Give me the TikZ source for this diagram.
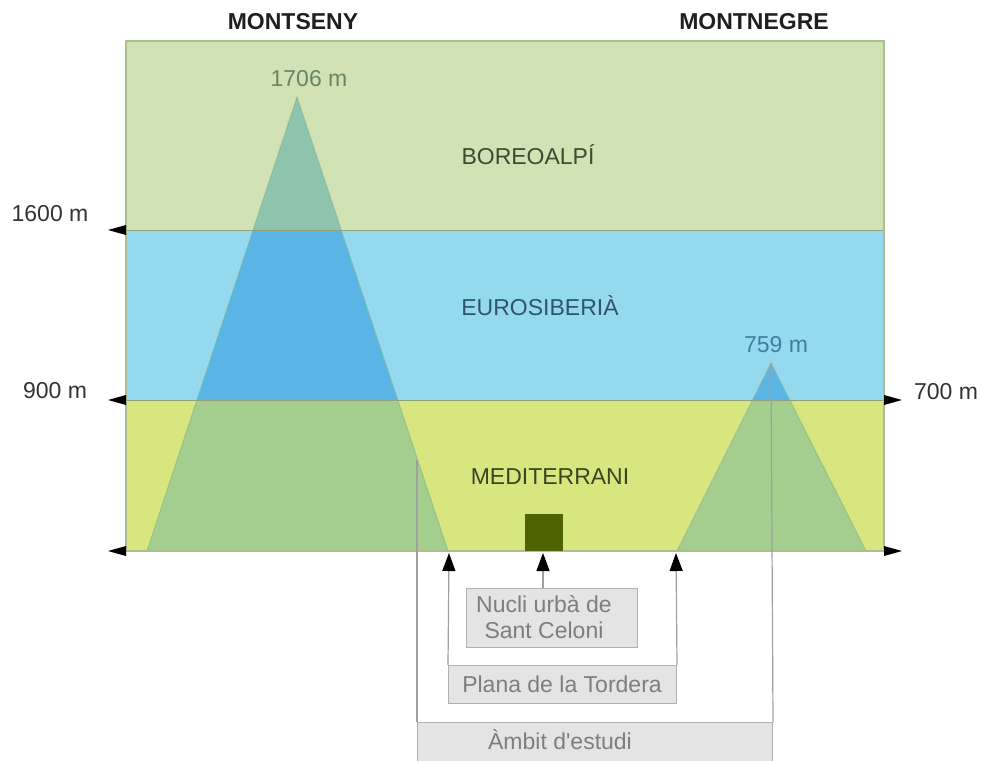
\documentclass[tikz,border=0pt]{standalone}
\usepackage{fontspec}
\setmainfont{Liberation Sans}
\newfontfamily\plainfont{Liberation Sans}
\usetikzlibrary{arrows.meta}
\definecolor{boreal}{HTML}{D1E3B5}
\definecolor{blueband}{HTML}{95D9EF}
\definecolor{medband}{HTML}{D8E67F}
\definecolor{triboreal}{HTML}{8EC4AE}
\definecolor{triblue}{HTML}{5AB5E6}
\definecolor{trimed}{HTML}{A3CE8E}
\definecolor{edgecol}{HTML}{86B68E}
\definecolor{frame}{HTML}{A9BE92}
\definecolor{boxfill}{HTML}{E4E4E4}
\definecolor{boxline}{HTML}{B0B0B0}
\definecolor{conncol}{HTML}{A0A0A0}
\definecolor{boxtext}{HTML}{7E7E7E}
\definecolor{urban}{HTML}{4E6300}
\begin{document}
\begin{tikzpicture}[x=1pt,y=-1pt,
  lbl/.style={inner sep=0pt,font=\fontsize{23}{27}\selectfont},
  head/.style={inner sep=0pt,font=\fontsize{23}{27}\selectfont\bfseries,text=black!88},
  infobox/.style={draw=boxline,fill=boxfill,line width=1pt,inner sep=0pt,anchor=north west},
  conn/.style={draw=conncol,line width=1.2pt},
  upconn/.style={conn,-{Triangle[length=18pt,width=13pt,fill=black,color=black]}},
  marker/.style={fill=black}
]
\useasboundingbox (0,0) rectangle (981,760);
% bands
\fill[boreal] (126,41) rectangle (884,230);
\fill[blueband] (126,230) rectangle (884,400);
\fill[medband] (126,400) rectangle (884,551);
% triangle pieces
\begin{scope}
\clip (126,41) rectangle (884,230);
\fill[triboreal] (297,97) -- (147,551) -- (448,551) -- cycle;
\end{scope}
\begin{scope}
\clip (126,230) rectangle (884,400);
\fill[triblue] (297,97) -- (147,551) -- (448,551) -- cycle;
\fill[triblue] (771,363) -- (677,551) -- (866,551) -- cycle;
\end{scope}
\begin{scope}
\clip (126,400) rectangle (884,551);
\fill[trimed] (297,97) -- (147,551) -- (448,551) -- cycle;
\fill[trimed] (771,363) -- (677,551) -- (866,551) -- cycle;
\end{scope}
\draw[edgecol,line width=0.8pt,opacity=0.7] (147,551) -- (297,97) -- (448,551);
\draw[edgecol,line width=0.8pt,opacity=0.7] (677,551) -- (771,363) -- (866,551);
% band lines and frame
\draw[frame!85!black,line width=1pt] (126,230) -- (884,230);
\draw[frame!85!black,line width=1pt] (126,400) -- (884,400);
\draw[frame,line width=1.3pt] (126,41) rectangle (884,551);
% urban square
\fill[urban] (525,514) rectangle (563,551);
% side markers
\fill[marker] (126,225) -- (108,230) -- (126,235) -- cycle;
\fill[marker] (126,395) -- (108,400) -- (126,405) -- cycle;
\fill[marker] (126,546) -- (108,551) -- (126,556) -- cycle;
\fill[marker] (884,395) -- (902,400) -- (884,405) -- cycle;
\fill[marker] (884,546) -- (902,551) -- (884,556) -- cycle;
% headings and labels
\node[head] (montseny) at (293,22) {MONTSENY};
\node[head] (montnegre) at (754,22) {MONTNEGRE};
\node[lbl,text=black!80] (l1600) at (50,214) {1600 m};
\node[lbl,text=black!80] (l900) at (55,391) {900 m};
\node[lbl,text=black!80] (l700) at (946,392) {700 m};
\node[lbl,text={rgb,255:red,104;green,132;blue,100}] (h1706) at (309,79) {1706 m};
\node[lbl,text={rgb,255:red,63;green,127;blue,159}] (h759) at (776,345) {759 m};
\node[lbl,text={rgb,255:red,63;green,74;blue,51}] (boreo) at (528,155) {BOREOALPÍ};
\node[lbl,text={rgb,255:red,47;green,85;blue,104}] (euro) at (540,306) {EUROSIBERIÀ};
\node[lbl,text={rgb,255:red,60;green,68;blue,32}] (medi) at (550,477) {MEDITERRANI};
% info boxes
\node[infobox,minimum width=171pt,minimum height=59pt] (nucli) at (466,588) {};
\node[infobox,minimum width=228pt,minimum height=38pt] (plana) at (448,665) {};
\node[infobox,minimum width=355pt,minimum height=42pt] (ambit) at (417,722) {};
\node[lbl,text=boxtext,align=center] (nuclitxt) at (544,617) {Nucli urbà de\\[-0.5pt]Sant Celoni};
\node[lbl,text=boxtext] (planatxt) at (562,684) {Plana de la Tordera};
\node[lbl,text=boxtext] (ambittxt) at (560,740) {\plainfont Àmbit d'estudi};
% connectors
\coordinate (tipA) at (449,553);
\coordinate (tipB) at (543,553);
\coordinate (tipC) at (676,553);
\coordinate (nucliTop) at (543,588);
\coordinate (ambTopL) at (417,460);
\coordinate (ambTopR) at (771,363);
\draw[upconn] (plana.north west) -- (tipA);
\draw[upconn] (nucliTop) -- (tipB);
\draw[upconn] (plana.north east) -- (tipC);
\draw[conn] (ambit.north west) -- (ambTopL);
\draw[conn] (ambit.north east) -- (ambTopR);
\end{tikzpicture}
\end{document}
